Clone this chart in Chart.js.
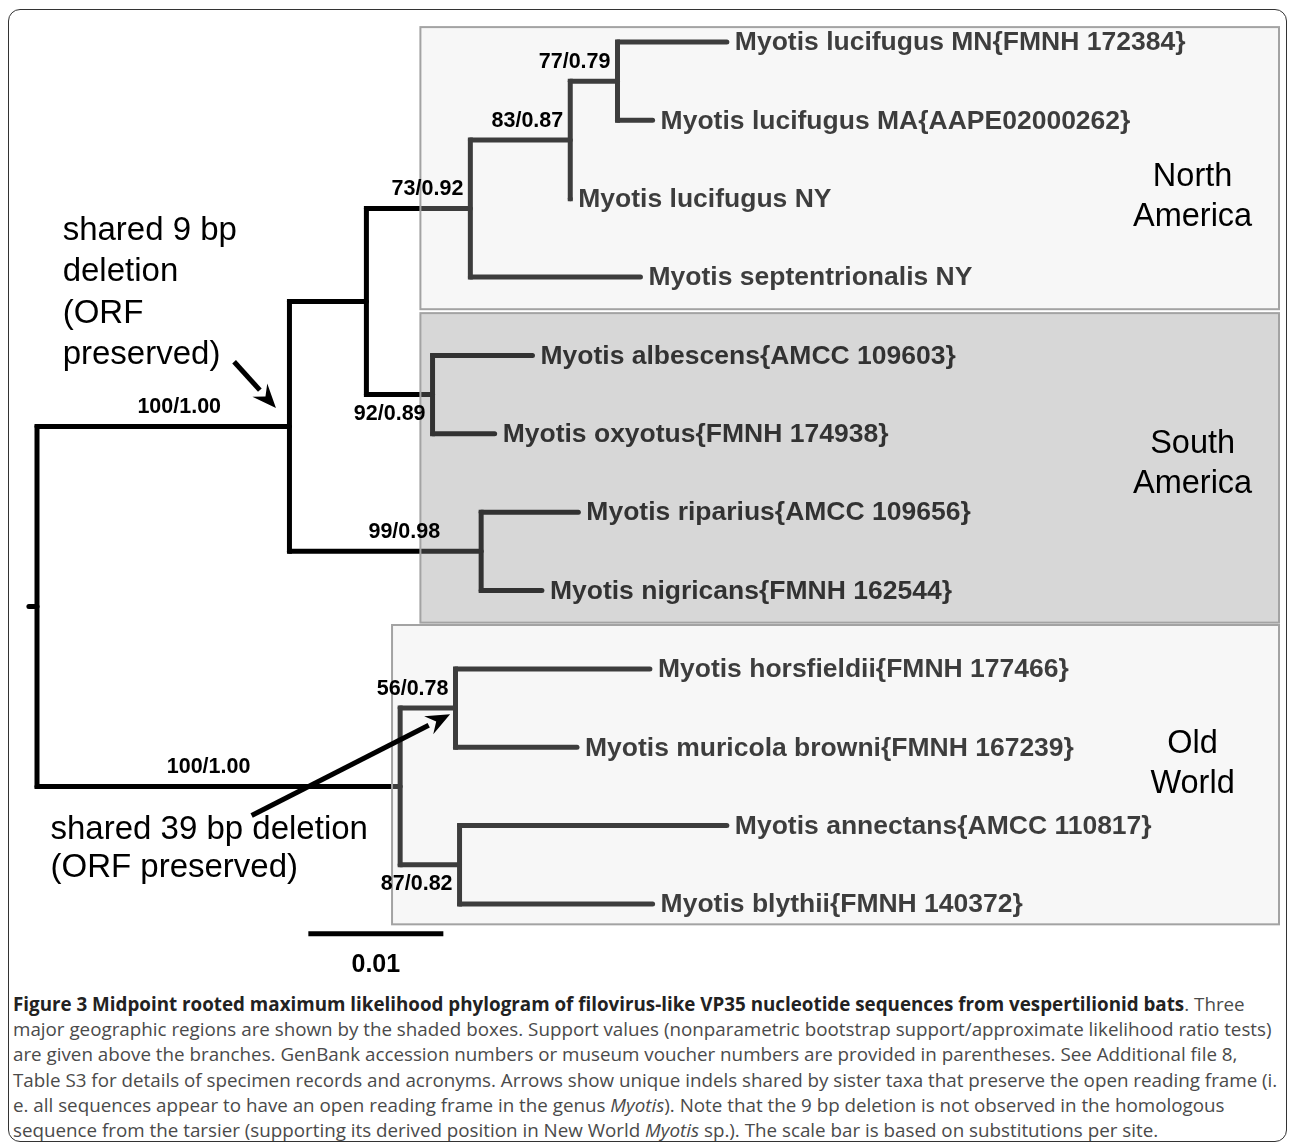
<!DOCTYPE html>
<html>
<head>
<meta charset="utf-8">
<script src="https://cdn.jsdelivr.net/npm/chart.js@4.4.1/dist/chart.umd.min.js"></script>
<style>
  body { margin: 0; background: #fff; }
  #page { position: relative; width: 1290px; height: 1147px; overflow: hidden; }
  #frame { position: absolute; left: 8px; top: 9px; width: 1279px; height: 1133px;
           border: 1.5px solid #333; border-radius: 12px; box-sizing: border-box; }
  #tree { position: absolute; left: 0; top: 0; }
  #caption { position: absolute; left: 13px; top: 992px; white-space: nowrap;
             font-family: "Open Sans", sans-serif; font-size: 18.8px; line-height: 25.2px; color: #4a4a4a; }
  #caption b { color: #222; }
</style>
</head>
<body>
<div id="page">
  <div id="frame"></div>
  <canvas id="tree" width="1290" height="990"></canvas>
  <div id="caption"><b>Figure 3 Midpoint rooted maximum likelihood phylogram of filovirus-like VP35 nucleotide sequences from vespertilionid bats</b>. Three<br>major geographic regions are shown by the shaded boxes. Support values (nonparametric bootstrap support/approximate likelihood ratio tests)<br>are given above the branches. GenBank accession numbers or museum voucher numbers are provided in parentheses. See Additional file 8,<br>Table S3 for details of specimen records and acronyms. Arrows show unique indels shared by sister taxa that preserve the open reading frame (i.<br>e. all sequences appear to have an open reading frame in the genus <i>Myotis</i>). Note that the 9 bp deletion is not observed in the homologous<br>sequence from the tarsier (supporting its derived position in New World <i>Myotis</i> sp.). The scale bar is based on substitutions per site.</div>
</div>
<script>
// === DATA (substitutions per site from the root, leaves top to bottom) ===
const taxa = [
  "Myotis lucifugus MN{FMNH 172384}",
  "Myotis lucifugus MA{AAPE02000262}",
  "Myotis lucifugus NY",
  "Myotis septentrionalis NY",
  "Myotis albescens{AMCC 109603}",
  "Myotis oxyotus{FMNH 174938}",
  "Myotis riparius{AMCC 109656}",
  "Myotis nigricans{FMNH 162544}",
  "Myotis horsfieldii{FMNH 177466}",
  "Myotis muricola browni{FMNH 167239}",
  "Myotis annectans{AMCC 110817}",
  "Myotis blythii{FMNH 140372}"
];
const taxonDepth = [0.0511, 0.0456, 0.0395, 0.0447, 0.0367, 0.0339, 0.0401, 0.0374, 0.0454, 0.0400, 0.0511, 0.0456];

// internal nodes: children are node names or leaf indexes
const nodeNames = ["root", "newWorld", "naSa", "northAm", "n83", "n77", "saA", "saB", "oldWorld", "n56", "n87"];
const nodeDepth = [0, 0.0187, 0.0244, 0.0321, 0.0395, 0.0430, 0.0293, 0.0329, 0.0269, 0.0310, 0.0313];
const nodeKids = [
  ["newWorld", "oldWorld"], ["naSa", "saB"], ["northAm", "saA"], ["n83", 3], ["n77", 2],
  [0, 1], [4, 5], [6, 7], ["n56", "n87"], [8, 9], [10, 11]
];
const rootStub = -0.0006;

const supportText = ["100/1.00", "73/0.92", "83/0.87", "77/0.79", "92/0.89", "99/0.98", "100/1.00", "56/0.78", "87/0.82"];
const supportNode = ["newWorld", "northAm", "n83", "n77", "saA", "saB", "oldWorld", "n56", "n87"];

const regionNames = [["North", "America"], ["South", "America"], ["Old", "World"]];
const scaleBarLength = 0.01;

// === LAYOUT ===
const X_MIN = -37 / 13500, X_MAX = (1290 - 37) / 13500;
const Y_MIN = -42 / 78.36, Y_MAX = (990 - 42) / 78.36;
const FONT = "'Liberation Sans', Arial, Helvetica, sans-serif";

// where each support value sits (above/below its branch, right end or mid-branch)
const supportPlace = {
  newWorld: { side: -1, mid: 16 }, northAm: { side: -1 }, n83: { side: -1 }, n77: { side: -1 },
  saA: { side: 1 }, saB: { side: -1, mid: 19 }, oldWorld: { side: -1, mid: -10 },
  n56: { side: -1 }, n87: { side: 1 }
};
const regionBoxes = [
  { top: -0.19, bottom: 3.41, left: 0.0284, fill: "rgba(225,225,225,0.27)", labelY: 1.97 },
  { top: 3.46, bottom: 7.41, left: 0.0284, fill: "rgba(142,142,142,0.353)", labelY: 5.37 },
  { top: 7.44, bottom: 11.26, left: 0.0263, fill: "rgba(225,225,225,0.27)", labelY: 9.20 }
];
const regionRight = 0.0920, regionLabelX = 0.0856;
const notes = [
  { lines: ["shared 9 bp", "deletion", "(ORF", "preserved)"], x: 0.0019, y: 2.41, gap: 41.5,
    arrow: [0.0146, 4.08, 0.0177, 4.67] },
  { lines: ["shared 39 bp deletion", "(ORF preserved)"], x: 0.0010, y: 10.06, gap: 38,
    arrow: [0.0159, 9.87, 0.0306, 8.58] }
];
const scaleBar = { x: 0.0201, y: 11.38 };

// === TREE GEOMETRY ===
function depthOf(k) { return typeof k === "number" ? taxonDepth[k] : nodeDepth[nodeNames.indexOf(k)]; }
function yOf(k) {
  if (typeof k === "number") return k;
  const kids = nodeKids[nodeNames.indexOf(k)];
  return (yOf(kids[0]) + yOf(kids[kids.length - 1])) / 2;
}

function seg(points, cap) {
  return { data: points, showLine: true, borderColor: "#000", borderWidth: 5,
           borderCapStyle: cap, borderJoinStyle: "miter", pointRadius: 0, tension: 0 };
}

const datasets = [];
nodeNames.forEach((n, i) => {
  const x = nodeDepth[i];
  const ys = nodeKids[i].map(yOf);
  datasets.push(seg([{ x, y: Math.min(...ys) }, { x, y: Math.max(...ys) }], "square"));
  nodeKids[i].forEach(k => {
    const y = yOf(k);
    datasets.push(seg([{ x, y }, { x: depthOf(k), y }], "round"));
  });
});
datasets.push(seg([{ x: rootStub, y: yOf("root") }, { x: 0, y: yOf("root") }], "round"));
datasets.push(seg([{ x: scaleBar.x, y: scaleBar.y }, { x: scaleBar.x + scaleBarLength, y: scaleBar.y }], "butt"));

// === DRAWING OF TEXT, BOXES, ARROWS ===
function arrow(ctx, x1, y1, x2, y2) {
  const a = Math.atan2(y2 - y1, x2 - x1), L = 24, W = 10;
  const bx = x2 - L * Math.cos(a), by = y2 - L * Math.sin(a);
  ctx.strokeStyle = "#000"; ctx.fillStyle = "#000"; ctx.lineWidth = 5; ctx.lineCap = "butt";
  ctx.beginPath(); ctx.moveTo(x1, y1); ctx.lineTo(bx, by); ctx.stroke();
  ctx.beginPath();
  ctx.moveTo(x2, y2);
  ctx.lineTo(bx + W * Math.sin(a), by - W * Math.cos(a));
  ctx.lineTo(bx + 0.35 * L * Math.cos(a), by + 0.35 * L * Math.sin(a));
  ctx.lineTo(bx - W * Math.sin(a), by + W * Math.cos(a));
  ctx.closePath(); ctx.fill();
}

const treePlugin = {
  id: "treeDecor",
  afterDatasetsDraw(chart) {
    const ctx = chart.ctx, sx = chart.scales.x, sy = chart.scales.y;
    const px = v => sx.getPixelForValue(v), py = v => sy.getPixelForValue(v);
    ctx.save();

    // taxon names (sit under the shaded boxes)
    ctx.fillStyle = "#000"; ctx.textBaseline = "middle"; ctx.textAlign = "left";
    ctx.font = "bold 26.5px " + FONT;
    taxa.forEach((t, i) => ctx.fillText(t, px(taxonDepth[i]) + 8, py(i) + 1));

    // shaded region boxes
    regionBoxes.forEach((b, i) => {
      const x0 = px(b.left), x1 = px(regionRight), y0 = py(b.top), y1 = py(b.bottom);
      ctx.fillStyle = b.fill; ctx.fillRect(x0, y0, x1 - x0, y1 - y0);
      ctx.strokeStyle = "#a3a3a3"; ctx.lineWidth = 2; ctx.strokeRect(x0, y0, x1 - x0, y1 - y0);
      ctx.fillStyle = "#000"; ctx.font = "32.5px " + FONT; ctx.textAlign = "center";
      ctx.fillText(regionNames[i][0], px(regionLabelX), py(b.labelY) - 19);
      ctx.fillText(regionNames[i][1], px(regionLabelX), py(b.labelY) + 21);
    });

    // support values
    ctx.font = "bold 21.5px " + FONT; ctx.fillStyle = "#000";
    supportText.forEach((t, i) => {
      const n = supportNode[i], p = supportPlace[n];
      const ni = nodeNames.indexOf(n);
      const y = py(yOf(n)) + p.side * 19;
      if (p.mid !== undefined) {
        const parent = nodeKids.findIndex(k => k.includes(n));
        ctx.textAlign = "center";
        ctx.fillText(t, (px(nodeDepth[parent]) + px(nodeDepth[ni])) / 2 + p.mid, y);
      } else {
        ctx.textAlign = "right";
        ctx.fillText(t, px(nodeDepth[ni]) - 7, y);
      }
    });

    // indel notes with arrows
    ctx.font = "33px " + FONT; ctx.textAlign = "left";
    notes.forEach(n => {
      n.lines.forEach((l, j) => { ctx.fillStyle = "#000"; ctx.fillText(l, px(n.x), py(n.y) + j * n.gap); });
      arrow(ctx, px(n.arrow[0]), py(n.arrow[1]), px(n.arrow[2]), py(n.arrow[3]));
    });

    // scale bar label
    ctx.font = "bold 25px " + FONT; ctx.textAlign = "center"; ctx.fillStyle = "#000";
    ctx.fillText(String(scaleBarLength), px(scaleBar.x + scaleBarLength / 2), py(scaleBar.y) + 31);
    ctx.restore();
  }
};

new Chart(document.getElementById("tree"), {
  type: "scatter",
  data: { datasets },
  options: {
    responsive: false,
    animation: false,
    events: [],
    layout: { padding: 0 },
    plugins: { legend: { display: false }, tooltip: { enabled: false } },
    scales: {
      x: { type: "linear", display: false, min: X_MIN, max: X_MAX },
      y: { type: "linear", display: false, reverse: true, min: Y_MIN, max: Y_MAX }
    }
  },
  plugins: [treePlugin]
});
</script>
</body>
</html>
